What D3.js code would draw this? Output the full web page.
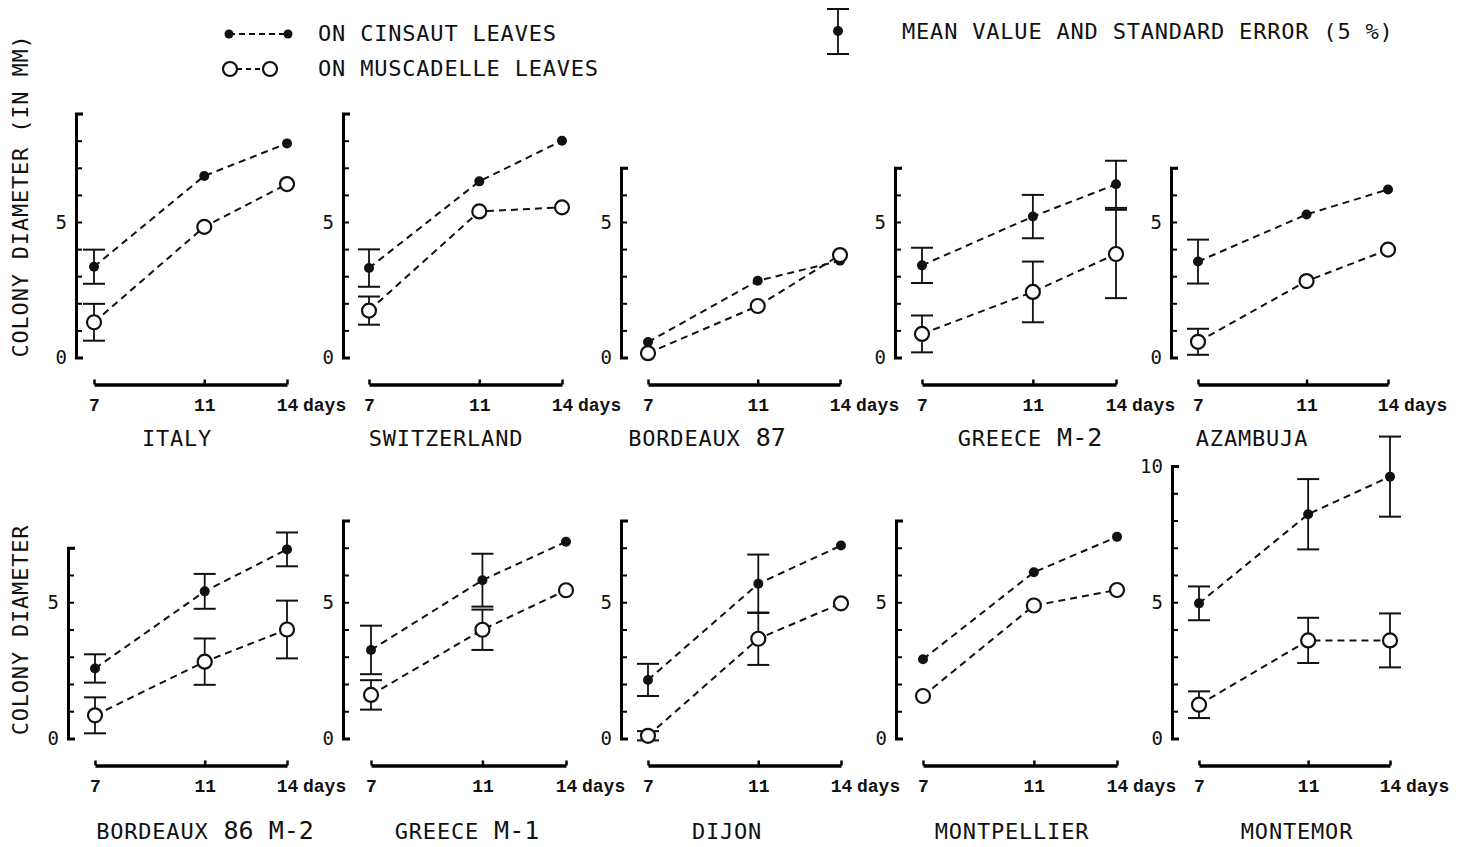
<!DOCTYPE html>
<html>
<head>
<meta charset="utf-8">
<script src="https://cdn.jsdelivr.net/npm/d3@7"></script>
<style>
  body { margin: 0; background: #fff; }
  text { fill: #111; }
  .lab { font-family: "DejaVu Sans Mono", monospace; font-size: 22px; letter-spacing: 0.8px; }
  .day { font-family: "Liberation Mono", monospace; font-size: 18px; font-weight: bold; }
  .ytick { font-family: "DejaVu Sans Mono", monospace; font-size: 19px; }
</style>
</head>
<body>
<svg width="1465" height="847"></svg>
<script>
// data (colony diameter, mm)
const panelNames = ["ITALY", "SWITZERLAND", "BORDEAUX 87", "GREECE M-2", "AZAMBUJA",
                    "BORDEAUX 86 M-2", "GREECE M-1", "DIJON", "MONTPELLIER", "MONTEMOR"];
const days = [7, 11, 14];
const yMax = [9, 9, 7, 7, 7, 7, 8, 8, 8, 10];
const yLabels = [[0, 5], [0, 5], [0, 5], [0, 5], [0, 5], [0, 5], [0, 5], [0, 5], [0, 5], [0, 5, 10]];

const cinsaut = [
  [3.35, 6.7, 7.9], [3.3, 6.5, 8.0], [0.57, 2.83, 3.57], [3.4, 5.2, 6.39], [3.54, 5.28, 6.2],
  [2.57, 5.4, 6.94], [3.25, 5.81, 7.22], [2.15, 5.68, 7.08], [2.91, 6.1, 7.4], [4.96, 8.23, 9.61]
];
const cinsautSE = [
  [0.63, 0, 0], [0.69, 0, 0], [0, 0, 0], [0.65, 0.8, 0.87], [0.81, 0, 0],
  [0.52, 0.64, 0.62], [0.89, 0.97, 0], [0.59, 1.07, 0], [0, 0, 0], [0.62, 1.29, 1.47]
];
const muscadelle = [
  [1.3, 4.82, 6.4], [1.73, 5.39, 5.54], [0.16, 1.9, 3.78], [0.87, 2.42, 3.82], [0.58, 2.82, 3.98],
  [0.85, 2.82, 4.0], [1.6, 3.99, 5.44], [0.1, 3.66, 4.96], [1.56, 4.88, 5.45], [1.24, 3.6, 3.6]
];
const muscadelleSE = [
  [0.68, 0, 0], [0.52, 0, 0], [0, 0, 0], [0.68, 1.12, 1.63], [0.48, 0, 0],
  [0.66, 0.85, 1.06], [0.54, 0.74, 0], [0.17, 0.96, 0], [0, 0, 0], [0.49, 0.83, 0.99]
];

// panel placement: y axis x, day 7 x, day 14 x, title centre
const layout = [
  [76, 94, 287, 177], [343, 369, 562, 446], [621, 648, 840, 707], [895, 922, 1116, 1030], [1171, 1198, 1388, 1252],
  [68, 95, 287, 205], [343, 371, 566, 467], [621, 648, 841, 727], [896, 923, 1117, 1012], [1172, 1199, 1390, 1297]
];
const rowY0 = [357.5, 738.5];
const rowUnit = [27.1, 27.25];
const titleOffset = [88, 100];

const svg = d3.select("svg");

function panel(i) {
  const row = i < 5 ? 0 : 1;
  const [axX, x7, x14, titleX] = layout[i];
  const y0 = rowY0[row], unit = rowUnit[row];
  const y = d3.scaleLinear().domain([0, yMax[i]]).range([y0, y0 - yMax[i] * unit]);
  const x = d3.scaleLinear().domain([7, 14]).range([x7, x14]);
  const g = svg.append("g");

  // y axis: ticks point inward, labels only at 0 / 5 / 10
  const yAxis = d3.axisLeft(y).tickValues(d3.range(0, yMax[i] + 1))
    .tickSizeInner(-6).tickSizeOuter(-7).tickPadding(9)
    .tickFormat(d => yLabels[i].includes(d) ? d : "");
  const ya = g.append("g").attr("transform", `translate(${axX},0)`).call(yAxis);
  ya.select(".domain").attr("stroke-width", 3);
  ya.selectAll(".tick line").attr("stroke-width", 2);
  ya.selectAll("text").attr("class", "ytick").attr("fill", "#111");

  // x axis bar below
  const xBarY = y0 + 27;
  const xAxis = d3.axisBottom(x).tickValues(days).tickFormat(d3.format("d"))
    .tickSizeInner(-5).tickSizeOuter(0).tickPadding(14);
  const xa = g.append("g").attr("transform", `translate(0,${xBarY})`).call(xAxis);
  xa.select(".domain").attr("stroke-width", 3.5);
  xa.selectAll(".tick line").attr("stroke-width", 2.5);
  xa.selectAll("text").attr("class", "day").attr("fill", "#111");
  g.append("text").attr("class", "day").attr("x", x(14) + 16).attr("y", xBarY + 14).attr("dy", "0.71em").text("days");

  // title
  const name = panelNames[i];
  const t = g.append("text").attr("class", "lab").attr("text-anchor", "middle")
    .attr("x", titleX).attr("y", y0 + titleOffset[row]);
  const m = name.match(/^(.*?)( (?:\d\d|M-\d)(?: M-\d)?)?$/);
  t.append("tspan").text(m[1]);
  if (m[2]) t.append("tspan").attr("font-size", 25).attr("letter-spacing", 0).text(m[2]);

  const line = d3.line().x((d, k) => x(days[k])).y(d => y(d));
  const series = [[cinsaut[i], cinsautSE[i], true], [muscadelle[i], muscadelleSE[i], false]];
  series.forEach(([vals]) => {
    g.append("path").attr("d", line(vals)).attr("fill", "none").attr("stroke", "#111")
      .attr("stroke-width", 2).attr("stroke-dasharray", "7,5");
  });
  series.forEach(([vals, se, filled]) => {
    vals.forEach((v, k) => {
      if (se[k] > 0) {
        const cx = x(days[k]);
        g.append("line").attr("x1", cx).attr("x2", cx).attr("y1", y(v - se[k])).attr("y2", y(v + se[k]))
          .attr("stroke", "#111").attr("stroke-width", 1.8);
        [v - se[k], v + se[k]].forEach(e => {
          g.append("line").attr("x1", cx - 11).attr("x2", cx + 11).attr("y1", y(e)).attr("y2", y(e))
            .attr("stroke", "#111").attr("stroke-width", 2);
        });
      }
    });
    g.selectAll(null).data(vals).enter().append("circle")
      .attr("cx", (d, k) => x(days[k])).attr("cy", d => y(d))
      .attr("r", filled ? 5 : 7)
      .attr("fill", filled ? "#111" : "#fff")
      .attr("stroke", "#111").attr("stroke-width", filled ? 0 : 2.2);
  });
}

d3.range(10).forEach(panel);

// axis titles
svg.append("text").attr("class", "lab").attr("text-anchor", "middle")
  .attr("transform", "translate(28,196) rotate(-90)").text("COLONY DIAMETER (IN MM)");
svg.append("text").attr("class", "lab").attr("text-anchor", "middle")
  .attr("transform", "translate(28,630) rotate(-90)").text("COLONY DIAMETER");

// legend
const leg = svg.append("g");
leg.append("line").attr("x1", 229).attr("x2", 288).attr("y1", 34).attr("y2", 34)
  .attr("stroke", "#111").attr("stroke-width", 2).attr("stroke-dasharray", "6,4");
[229, 288].forEach(cx => leg.append("circle").attr("cx", cx).attr("cy", 34).attr("r", 4.5).attr("fill", "#111"));
leg.append("line").attr("x1", 237).attr("x2", 263).attr("y1", 69).attr("y2", 69)
  .attr("stroke", "#111").attr("stroke-width", 2).attr("stroke-dasharray", "5,4");
[230, 270].forEach(cx => leg.append("circle").attr("cx", cx).attr("cy", 69).attr("r", 7)
  .attr("fill", "#fff").attr("stroke", "#111").attr("stroke-width", 2.2));
leg.append("text").attr("class", "lab").attr("x", 318).attr("y", 41).text("ON CINSAUT LEAVES");
leg.append("text").attr("class", "lab").attr("x", 318).attr("y", 76).text("ON MUSCADELLE LEAVES");

leg.append("line").attr("x1", 838).attr("x2", 838).attr("y1", 9).attr("y2", 54).attr("stroke", "#111").attr("stroke-width", 1.8);
[9, 54].forEach(yy => leg.append("line").attr("x1", 827).attr("x2", 849).attr("y1", yy).attr("y2", yy)
  .attr("stroke", "#111").attr("stroke-width", 2));
leg.append("circle").attr("cx", 838).attr("cy", 31).attr("r", 5).attr("fill", "#111");
leg.append("text").attr("class", "lab").attr("x", 902).attr("y", 39).text("MEAN VALUE AND STANDARD ERROR (5 %)");
</script>
</body>
</html>
